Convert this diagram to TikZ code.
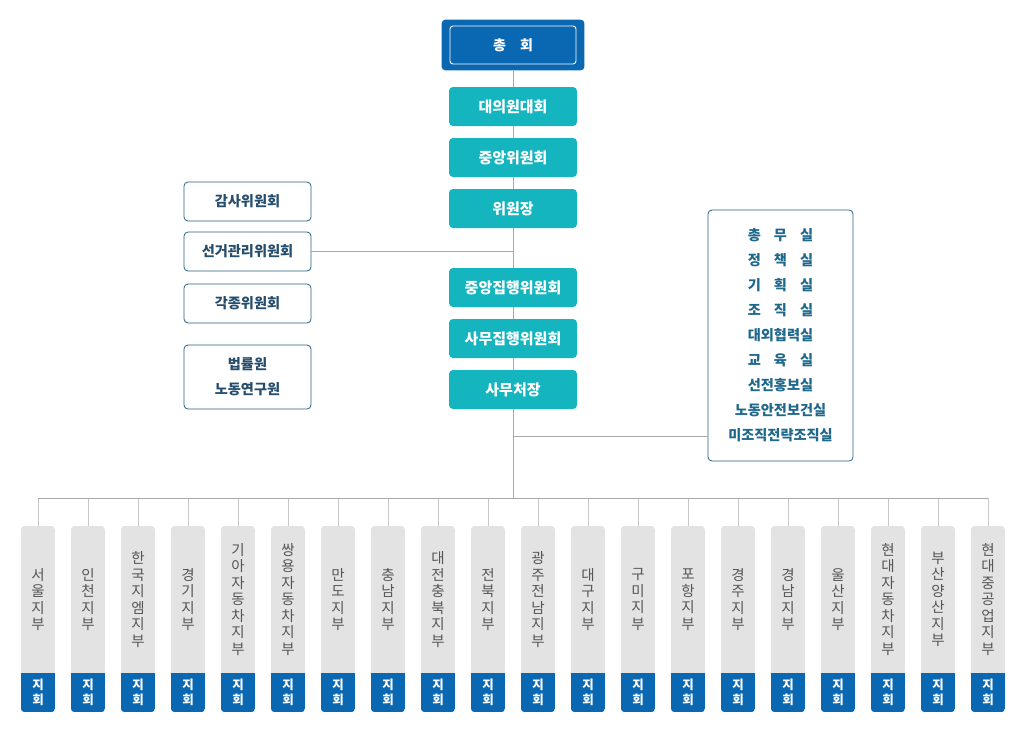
\documentclass[tikz,border=0pt]{standalone}
\usepackage{fontspec}
\setmainfont{Noto Sans CJK KR}
\usetikzlibrary{backgrounds,fit}

\definecolor{chongblue}{RGB}{10,104,178}
\definecolor{boxteal}{RGB}{20,181,191}
\definecolor{sideline}{RGB}{40,96,128}
\definecolor{sidetext}{RGB}{38,78,108}
\definecolor{officetext}{RGB}{30,104,140}
\definecolor{linegray}{RGB}{168,168,168}
\definecolor{tickgray}{RGB}{200,200,200}
\definecolor{jibugray}{RGB}{227,227,227}
\definecolor{jibutext}{RGB}{85,85,85}

\tikzset{
  chongbox/.style={draw=white, line width=0.9pt, fill=chongblue, text=white,
    font=\bfseries\fontsize{14}{16}\selectfont, minimum width=126pt,
    minimum height=38pt, rounded corners=3pt, inner sep=0pt},
  tealbox/.style={fill=boxteal, text=white, font=\bfseries\fontsize{15}{17}\selectfont,
    minimum width=128pt, minimum height=39pt, rounded corners=4pt, inner sep=0pt},
  sidebox/.style={draw=sideline, line width=0.8pt, fill=white, text=sidetext,
    font=\bfseries\fontsize{14.2}{25}\selectfont, minimum width=127pt,
    minimum height=39pt, rounded corners=4pt, inner sep=0pt, align=center},
  officebox/.style={draw=sideline, line width=0.8pt, fill=white, text=officetext,
    font=\bfseries\fontsize{14.2}{25}\selectfont, minimum width=145pt,
    minimum height=251pt, rounded corners=4pt, inner sep=0pt, align=center},
  conn/.style={draw=linegray, line width=0.7pt},
  tick/.style={draw=tickgray, line width=0.7pt},
  jibu/.style={text=jibutext, font=\fontsize{14.5}{16.5}\selectfont,
    minimum width=34pt, minimum height=147pt, inner sep=0pt, align=center},
  hoe/.style={text=white, font=\bfseries\fontsize{12.5}{15}\selectfont,
    minimum width=34pt, minimum height=39pt, inner sep=0pt, align=center}
}

\newcommand{\spread}[3]{#1\hphantom{가}#2\hphantom{가}#3}

\begin{document}
\begin{tikzpicture}[x=1pt,y=-1pt]
  \useasboundingbox (0,0) rectangle (1024,728);

  % main column
  \node[chongbox] (chong) at (513,45) {총\hspace{1em}회};
  \node[tealbox] (daeui) at (513,106.5) {대의원대회};
  \node[tealbox] (jungang) at (513,157.5) {중앙위원회};
  \node[tealbox] (wiwonjang) at (513,208.5) {위원장};
  \node[tealbox] (jungjip) at (513,287.5) {중앙집행위원회};
  \node[tealbox] (samujip) at (513,338.5) {사무집행위원회};
  \node[tealbox] (samucheo) at (513,389.5) {사무처장};

  % committees on the left
  \node[sidebox] (gamsa) at (247.5,201.5) {감사위원회};
  \node[sidebox] (seongeo) at (247.5,251.5) {선거관리위원회};
  \node[sidebox] (gakjong) at (247.5,303.5) {각종위원회};
  \node[sidebox, minimum height=64pt] (beobryul) at (247.5,377) {법률원\\노동연구원};

  % offices on the right
  \node[officebox] (office) at (780.5,335.5)
    {\spread{총}{무}{실}\\\spread{정}{책}{실}\\\spread{기}{획}{실}\\\spread{조}{직}{실}\\
     대외협력실\\\spread{교}{육}{실}\\선전홍보실\\노동안전보건실\\미조직전략조직실};

  % branches
  \foreach \nm [count=\i] in {{서\\울\\지\\부}, {인\\천\\지\\부}, {한\\국\\지\\엠\\지\\부},
      {경\\기\\지\\부}, {기\\아\\자\\동\\차\\지\\부}, {쌍\\용\\자\\동\\차\\지\\부},
      {만\\도\\지\\부}, {충\\남\\지\\부}, {대\\전\\충\\북\\지\\부}, {전\\북\\지\\부},
      {광\\주\\전\\남\\지\\부}, {대\\구\\지\\부}, {구\\미\\지\\부}, {포\\항\\지\\부},
      {경\\주\\지\\부}, {경\\남\\지\\부}, {울\\산\\지\\부}, {현\\대\\자\\동\\차\\지\\부},
      {부\\산\\양\\산\\지\\부}, {현\\대\\중\\공\\업\\지\\부}} {
    \node[jibu] (b\i) at ({38+(\i-1)*50},599.5) {\nm};
    \node[hoe] (h\i) at ({38+(\i-1)*50},692.5) {지\\회};
  }

  \begin{scope}[on background layer]
    \node[fill=chongblue, rounded corners=4pt, inner xsep=8pt, inner ysep=6pt,
      fit=(chong)] (chongbg) {};
    \foreach \i in {1,...,20} {
      \begin{scope}
        \clip[rounded corners=4pt] (b\i.north west) rectangle (h\i.south east);
        \fill[jibugray] (b\i.north west) rectangle (b\i.south east);
        \fill[chongblue] (h\i.north west) rectangle (h\i.south east);
      \end{scope}
    }
  \end{scope}

  \coordinate (hub) at (513,498);
  \coordinate (officejoin) at (513,436);

  \draw[conn] (chongbg.south) -- (daeui.north);
  \draw[conn] (daeui.south) -- (jungang.north);
  \draw[conn] (jungang.south) -- (wiwonjang.north);
  \draw[conn] (wiwonjang.south) -- (jungjip.north);
  \draw[conn] (jungjip.south) -- (samujip.north);
  \draw[conn] (samujip.south) -- (samucheo.north);
  \draw[conn] (samucheo.south) -- (hub);
  \draw[conn] (seongeo.east) -- (seongeo.east -| wiwonjang.south);
  \draw[conn] (officejoin) -- (officejoin -| office.west);
  \foreach \i in {1,...,20} {
    \draw[tick] (b\i.north |- hub) -- (b\i.north);
  }
  \draw[conn] (b1.north |- hub) -- (b20.north |- hub);
\end{tikzpicture}
\end{document}
